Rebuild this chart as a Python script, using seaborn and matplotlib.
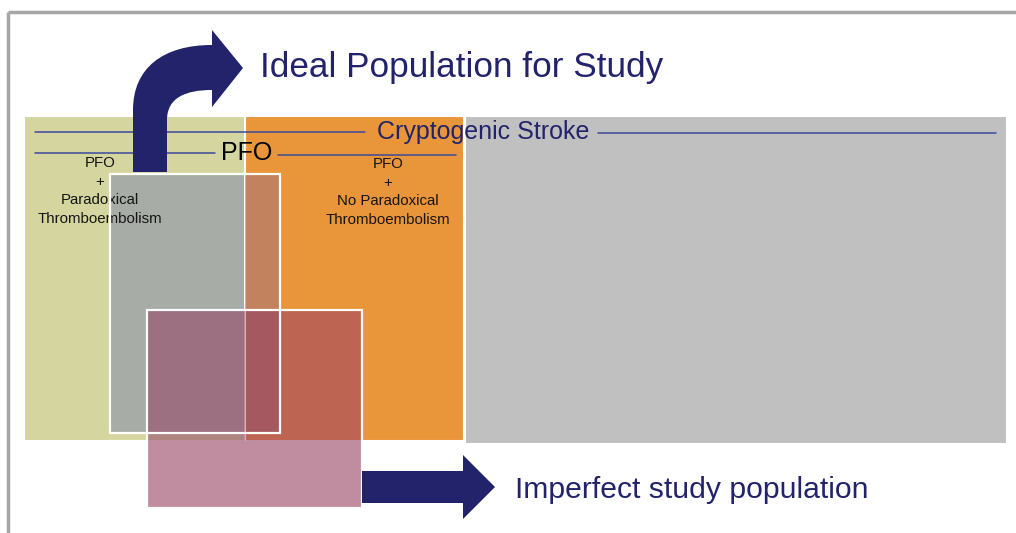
import numpy as np
import matplotlib.pyplot as plt
from matplotlib.patches import Rectangle, PathPatch, Polygon
from matplotlib.path import Path
import seaborn as sns

sns.set_theme(style='white')
plt.rcParams['font.family'] = ['Liberation Sans', 'DejaVu Sans']

# Population boxes (pixel coordinates: x0, y0, x1, y1)
box_names = ['PFO + paradoxical', 'PFO + no paradoxical', 'Other cryptogenic']
box_x0 = [24, 245, 465]
box_x1 = [244, 463, 1006]
box_y0 = [116, 116, 116]
box_y1 = [440, 440, 443]
box_colors = ['#d5d5a0', '#e9953a', '#c0c0c0']

# Overlay boxes: ideal population and imperfect study population
overlay_names = ['Ideal', 'Imperfect']
overlay_x0 = [110, 147]
overlay_x1 = [280, 362]
overlay_y0 = [174, 310]
overlay_y1 = [433, 508]

# blended colours seen where the overlays sit on each background
ideal_on = {'yellow': '#a8aca6', 'orange': '#c2825e'}
pink_on = {'white': '#c08ca0', 'yellow': '#ae847f', 'orange': '#be6452',
           'ideal_yellow': '#9c7080', 'ideal_orange': '#a65860'}

navy = '#23236b'
line_blue = '#3a4a9a'


def rect(i, xs0, xs1, ys0, ys1):
    return (xs0[i], ys0[i], xs1[i], ys1[i])


def intersect(*rs):
    x0 = max(r[0] for r in rs)
    y0 = max(r[1] for r in rs)
    x1 = min(r[2] for r in rs)
    y1 = min(r[3] for r in rs)
    return (x0, y0, x1, y1)


def fill(ax, r, color, z):
    if r[2] > r[0] and r[3] > r[1]:
        ax.add_patch(Rectangle((r[0], r[1]), r[2] - r[0], r[3] - r[1],
                               facecolor=color, edgecolor='none', zorder=z))


fig = plt.figure(figsize=(10.16, 5.33), dpi=100)
ax = fig.add_axes([0, 0, 1, 1])
ax.set_xlim(0, 1016)
ax.set_ylim(533, 0)
ax.axis('off')

# frame
ax.plot([8, 1016], [12, 12], color='#a6a6a6', lw=2.5, solid_capstyle='butt')
ax.plot([8, 8], [12, 533], color='#a6a6a6', lw=2.5, solid_capstyle='butt')

for x0, x1, y0, y1, c in zip(box_x0, box_x1, box_y0, box_y1, box_colors):
    ax.add_patch(Rectangle((x0, y0), x1 - x0, y1 - y0, facecolor=c,
                           edgecolor='white', lw=0.8, zorder=1))

# brackets
ax.plot([35, 365], [132, 132], color=line_blue, lw=1.1, zorder=2)
ax.plot([598, 996], [133, 133], color=line_blue, lw=1.1, zorder=2)
ax.text(483, 132, 'Cryptogenic Stroke', color=navy, fontsize=18,
        ha='center', va='center', zorder=2)
ax.plot([35, 215], [153, 153], color=line_blue, lw=1.1, zorder=2)
ax.plot([278, 456], [155, 155], color=line_blue, lw=1.1, zorder=2)
ax.text(247, 153, 'PFO', color='black', fontsize=18,
        ha='center', va='center', zorder=2)

# curved arrow to the ideal population
curve = Path([(133, 172), (133, 110), (133, 68), (163, 45), (212, 45),
              (212, 30), (243, 68), (212, 107), (212, 90),
              (185, 90), (167, 98), (167, 120), (167, 172), (133, 172)],
             [Path.MOVETO, Path.LINETO, Path.CURVE4, Path.CURVE4, Path.CURVE4,
              Path.LINETO, Path.LINETO, Path.LINETO, Path.LINETO,
              Path.CURVE4, Path.CURVE4, Path.CURVE4, Path.LINETO, Path.CLOSEPOLY])
ax.add_patch(PathPatch(curve, facecolor=navy, edgecolor='none', zorder=3))

yellow = rect(0, box_x0, box_x1, box_y0, box_y1)
orange = rect(1, box_x0, box_x1, box_y0, box_y1)
ideal = rect(0, overlay_x0, overlay_x1, overlay_y0, overlay_y1)
pink = rect(1, overlay_x0, overlay_x1, overlay_y0, overlay_y1)

fill(ax, intersect(ideal, yellow), ideal_on['yellow'], 4)
fill(ax, intersect(ideal, orange), ideal_on['orange'], 4)

fill(ax, pink, pink_on['white'], 6)
fill(ax, intersect(pink, yellow), pink_on['yellow'], 6)
fill(ax, intersect(pink, orange), pink_on['orange'], 6)
fill(ax, intersect(pink, ideal, yellow), pink_on['ideal_yellow'], 6)
fill(ax, intersect(pink, ideal, orange), pink_on['ideal_orange'], 6)

# faint box seam showing through the overlays
ax.plot([box_x1[0] + 0.5] * 2, [overlay_y0[0], box_y1[0]], color='#a9bde0',
        lw=0.8, zorder=7)

for r in (ideal, pink):
    ax.add_patch(Rectangle((r[0], r[1]), r[2] - r[0], r[3] - r[1],
                           facecolor='none', edgecolor='white', lw=1.6, zorder=7))

ax.text(100, 191, 'PFO\n+\nParadoxical\nThromboembolism', fontsize=10.8,
        ha='center', va='center', ma='center', linespacing=1.45, color='#151515', zorder=5)
ax.text(388, 192, 'PFO\n+\nNo Paradoxical\nThromboembolism', fontsize=10.8,
        ha='center', va='center', ma='center', linespacing=1.45, color='#151515', zorder=5)

# straight arrow to the imperfect population
ax.add_patch(Polygon([(362, 471), (463, 471), (463, 455), (495, 487),
                      (463, 519), (463, 503), (362, 503)],
                     closed=True, facecolor=navy, edgecolor='none', zorder=8))

ax.text(260, 67, 'Ideal Population for Study', color=navy, fontsize=25.3,
        ha='left', va='center')
ax.text(515, 490, 'Imperfect study population', color=navy, fontsize=21.7,
        ha='left', va='center')

fig.savefig('out.png', dpi=100)
